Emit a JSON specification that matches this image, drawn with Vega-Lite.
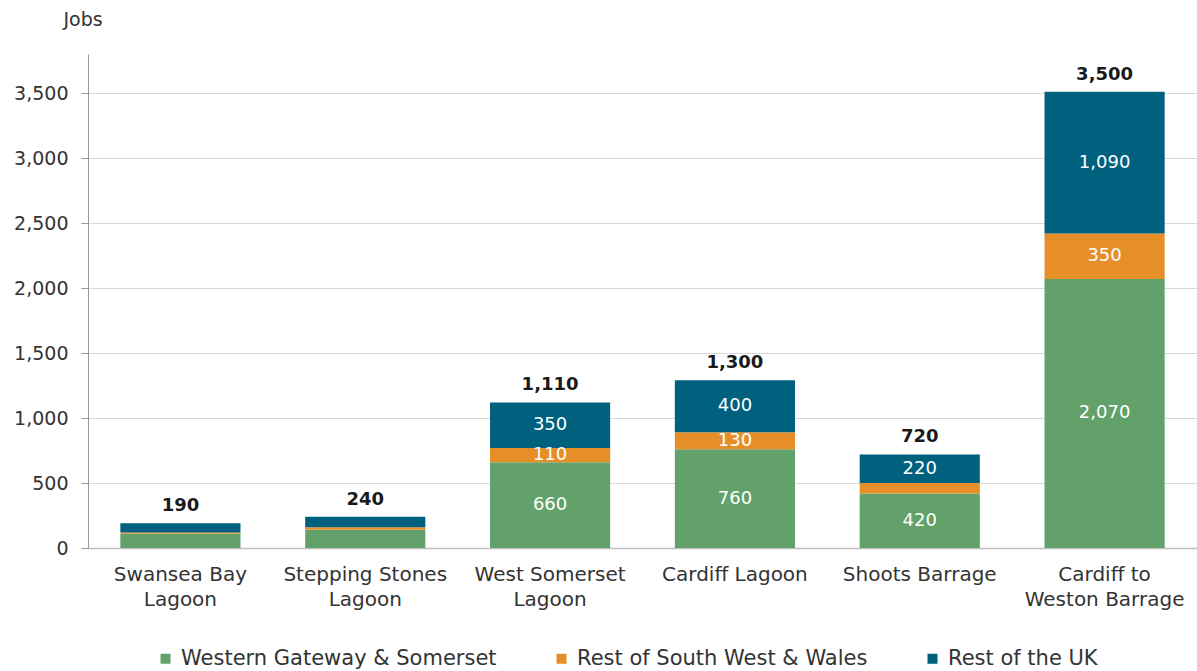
{
  "$schema": "https://vega.github.io/schema/vega-lite/v6.json",
  "width": 1109,
  "height": 494,
  "autosize": {"type": "none"},
  "padding": {"left": 88, "top": 54, "right": 0, "bottom": 123},
  "background": "white",
  "config": {
    "font": "DejaVu Sans",
    "view": {"stroke": null},
    "axis": {"labelFont": "DejaVu Sans", "titleFont": "DejaVu Sans"},
    "legend": {"labelFont": "DejaVu Sans"}
  },
  "data": {
    "values": [
      {"project": "Swansea Bay|Lagoon", "region": "Western Gateway & Somerset", "jobs": 110, "total": 190},
      {"project": "Swansea Bay|Lagoon", "region": "Rest of South West & Wales", "jobs": 10, "total": 190},
      {"project": "Swansea Bay|Lagoon", "region": "Rest of the UK", "jobs": 70, "total": 190},
      {"project": "Stepping Stones|Lagoon", "region": "Western Gateway & Somerset", "jobs": 140, "total": 240},
      {"project": "Stepping Stones|Lagoon", "region": "Rest of South West & Wales", "jobs": 20, "total": 240},
      {"project": "Stepping Stones|Lagoon", "region": "Rest of the UK", "jobs": 80, "total": 240},
      {"project": "West Somerset|Lagoon", "region": "Western Gateway & Somerset", "jobs": 660, "total": 1110},
      {"project": "West Somerset|Lagoon", "region": "Rest of South West & Wales", "jobs": 110, "total": 1110},
      {"project": "West Somerset|Lagoon", "region": "Rest of the UK", "jobs": 350, "total": 1110},
      {"project": "Cardiff Lagoon", "region": "Western Gateway & Somerset", "jobs": 760, "total": 1300},
      {"project": "Cardiff Lagoon", "region": "Rest of South West & Wales", "jobs": 130, "total": 1300},
      {"project": "Cardiff Lagoon", "region": "Rest of the UK", "jobs": 400, "total": 1300},
      {"project": "Shoots Barrage", "region": "Western Gateway & Somerset", "jobs": 420, "total": 720},
      {"project": "Shoots Barrage", "region": "Rest of South West & Wales", "jobs": 80, "total": 720},
      {"project": "Shoots Barrage", "region": "Rest of the UK", "jobs": 220, "total": 720},
      {"project": "Cardiff to|Weston Barrage", "region": "Western Gateway & Somerset", "jobs": 2070, "total": 3500},
      {"project": "Cardiff to|Weston Barrage", "region": "Rest of South West & Wales", "jobs": 350, "total": 3500},
      {"project": "Cardiff to|Weston Barrage", "region": "Rest of the UK", "jobs": 1090, "total": 3500}
    ]
  },
  "transform": [
    {"calculate": "indexof(['Western Gateway & Somerset','Rest of South West & Wales','Rest of the UK'], datum.region)", "as": "ord"}
  ],
  "encoding": {
    "x": {
      "field": "project",
      "type": "nominal",
      "sort": null,
      "scale": {"paddingInner": 0.35, "paddingOuter": 0.175},
      "axis": {
        "title": null,
        "labelAngle": 0,
        "labelExpr": "split(datum.label, '|')",
        "labelFontSize": 20,
        "labelColor": "#333333",
        "labelLineHeight": 25,
        "labelPadding": 16,
        "labelLimit": 0,
        "ticks": false,
        "domainColor": "#bfbfbf",
        "domainWidth": 1.5
      }
    }
  },
  "layer": [
    {
      "mark": {"type": "bar"},
      "encoding": {
        "y": {
          "field": "jobs",
          "type": "quantitative",
          "stack": "zero",
          "scale": {"domain": [0, 3800], "nice": false},
          "axis": {
            "values": [0, 500, 1000, 1500, 2000, 2500, 3000, 3500],
            "format": ",.0f",
            "title": "Jobs",
            "titleAngle": 0,
            "titleAlign": "left",
            "titleBaseline": "alphabetic",
            "titleX": -25,
            "titleY": -29,
            "titleFontSize": 19,
            "titleFontWeight": "normal",
            "titleColor": "#333333",
            "labelFontSize": 19,
            "labelColor": "#333333",
            "labelPadding": 13,
            "tickSize": 7,
            "tickColor": "#999999",
            "domainColor": "#999999",
            "gridColor": "#d9d9d9",
            "grid": true
          }
        },
        "color": {
          "field": "region",
          "type": "nominal",
          "sort": ["Western Gateway & Somerset", "Rest of South West & Wales", "Rest of the UK"],
          "scale": {
            "domain": ["Western Gateway & Somerset", "Rest of South West & Wales", "Rest of the UK"],
            "range": ["#63a16b", "#e68f29", "#00617f"]
          },
          "legend": {
            "title": null,
            "orient": "none",
            "direction": "horizontal",
            "legendX": 67,
            "legendY": 594,
            "symbolType": "square",
            "symbolSize": 100,
            "symbolStrokeWidth": 0,
            "labelFontSize": 21,
            "labelColor": "#333333",
            "labelOffset": 5,
            "labelLimit": 0,
            "columnPadding": 54
          }
        },
        "order": {"field": "ord", "type": "quantitative"}
      }
    },
    {
      "transform": [
        {"stack": "jobs", "groupby": ["project"], "sort": [{"field": "ord", "order": "ascending"}], "as": ["y0", "y1"]},
        {"filter": "datum.jobs >= 100 && datum.total >= 500"},
        {"calculate": "(datum.y0 + datum.y1) / 2", "as": "ymid"}
      ],
      "mark": {"type": "text", "color": "white", "fontSize": 18, "baseline": "middle", "align": "center"},
      "encoding": {
        "y": {"field": "ymid", "type": "quantitative"},
        "text": {"field": "jobs", "type": "quantitative", "format": ","}
      }
    },
    {
      "transform": [
        {"aggregate": [{"op": "sum", "field": "jobs", "as": "top"}, {"op": "max", "field": "total", "as": "total"}], "groupby": ["project"]}
      ],
      "mark": {"type": "text", "color": "#1a1a1a", "fontSize": 18, "fontWeight": "bold", "baseline": "alphabetic", "align": "center", "dy": -12},
      "encoding": {
        "y": {"field": "top", "type": "quantitative"},
        "text": {"field": "total", "type": "quantitative", "format": ","}
      }
    }
  ]
}
